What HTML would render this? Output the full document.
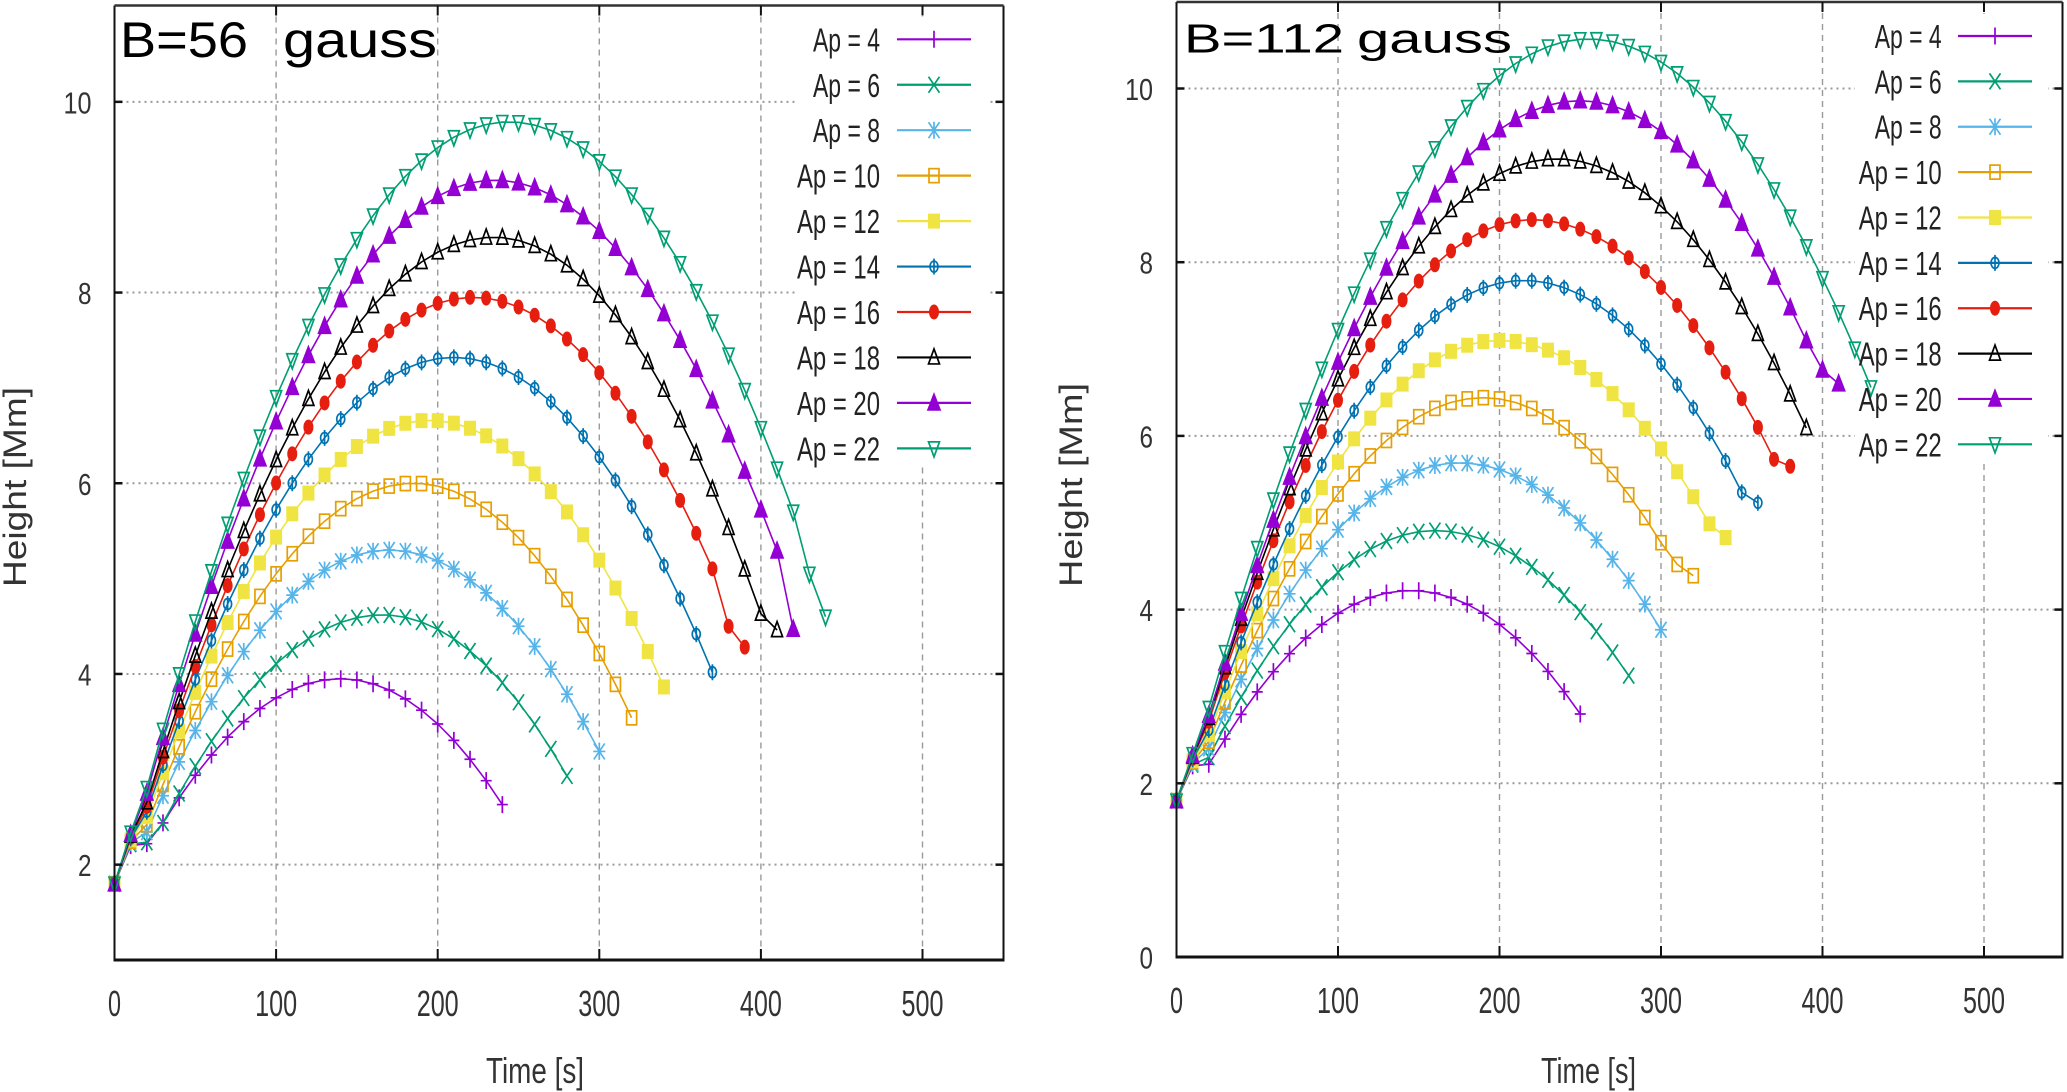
<!DOCTYPE html>
<html>
<head>
<meta charset="utf-8">
<style>
html,body{margin:0;padding:0;background:#fff;}
svg{display:block;}
text{font-family:"Liberation Sans",sans-serif;}
</style>
</head>
<body>
<svg id="s" width="2067" height="1092" viewBox="0 0 2067 1092" xmlns="http://www.w3.org/2000/svg">
<rect width="2067" height="1092" fill="#fff"/>
<g id="grid"></g>
<!-- legend boxes -->
<rect x="795" y="17" width="193" height="450" fill="#fff"/>
<rect x="1855" y="14" width="193" height="450" fill="#fff"/>
<g id="legend"></g>
<g id="curves"></g>
<g id="frame"></g>

<!-- Titles -->
<text x="120" y="57" font-size="50" fill="#000" textLength="128" lengthAdjust="spacingAndGlyphs">B=56</text>
<text x="283" y="57" font-size="50" fill="#000" textLength="154" lengthAdjust="spacingAndGlyphs">gauss</text>
<text x="1184" y="52.5" font-size="41" fill="#000" textLength="160" lengthAdjust="spacingAndGlyphs">B=112</text>
<text x="1357" y="52.5" font-size="41" fill="#000" textLength="155" lengthAdjust="spacingAndGlyphs">gauss</text>

<!-- Left legend text -->
<g font-size="33" fill="#222">
<text x="813" y="51.3" textLength="67" lengthAdjust="spacingAndGlyphs">Ap = 4</text>
<text x="813" y="96.8" textLength="67" lengthAdjust="spacingAndGlyphs">Ap = 6</text>
<text x="813" y="142.2" textLength="67" lengthAdjust="spacingAndGlyphs">Ap = 8</text>
<text x="797" y="187.7" textLength="83" lengthAdjust="spacingAndGlyphs">Ap = 10</text>
<text x="797" y="233.1" textLength="83" lengthAdjust="spacingAndGlyphs">Ap = 12</text>
<text x="797" y="278.6" textLength="83" lengthAdjust="spacingAndGlyphs">Ap = 14</text>
<text x="797" y="324" textLength="83" lengthAdjust="spacingAndGlyphs">Ap = 16</text>
<text x="797" y="369.5" textLength="83" lengthAdjust="spacingAndGlyphs">Ap = 18</text>
<text x="797" y="414.9" textLength="83" lengthAdjust="spacingAndGlyphs">Ap = 20</text>
<text x="797" y="460.4" textLength="83" lengthAdjust="spacingAndGlyphs">Ap = 22</text>
</g>
<!-- Right legend text -->
<g font-size="33" fill="#222">
<text x="1874.7" y="48" textLength="67" lengthAdjust="spacingAndGlyphs">Ap = 4</text>
<text x="1874.7" y="93.4" textLength="67" lengthAdjust="spacingAndGlyphs">Ap = 6</text>
<text x="1874.7" y="138.7" textLength="67" lengthAdjust="spacingAndGlyphs">Ap = 8</text>
<text x="1858.7" y="184.1" textLength="83" lengthAdjust="spacingAndGlyphs">Ap = 10</text>
<text x="1858.7" y="229.5" textLength="83" lengthAdjust="spacingAndGlyphs">Ap = 12</text>
<text x="1858.7" y="274.9" textLength="83" lengthAdjust="spacingAndGlyphs">Ap = 14</text>
<text x="1858.7" y="320.2" textLength="83" lengthAdjust="spacingAndGlyphs">Ap = 16</text>
<text x="1858.7" y="365.6" textLength="83" lengthAdjust="spacingAndGlyphs">Ap = 18</text>
<text x="1858.7" y="411" textLength="83" lengthAdjust="spacingAndGlyphs">Ap = 20</text>
<text x="1858.7" y="456.3" textLength="83" lengthAdjust="spacingAndGlyphs">Ap = 22</text>
</g>

<!-- Left y tick labels -->
<g font-size="31" fill="#333">
<text x="78" y="876.2" textLength="13.5" lengthAdjust="spacingAndGlyphs">2</text>
<text x="78" y="685.5" textLength="13.5" lengthAdjust="spacingAndGlyphs">4</text>
<text x="78" y="494.8" textLength="13.5" lengthAdjust="spacingAndGlyphs">6</text>
<text x="78" y="304" textLength="13.5" lengthAdjust="spacingAndGlyphs">8</text>
<text x="63.5" y="113.4" textLength="28" lengthAdjust="spacingAndGlyphs">10</text>
</g>
<!-- Right y tick labels -->
<g font-size="31" fill="#333">
<text x="1139.5" y="968.5" textLength="13.5" lengthAdjust="spacingAndGlyphs">0</text>
<text x="1139.5" y="794.8" textLength="13.5" lengthAdjust="spacingAndGlyphs">2</text>
<text x="1139.5" y="621.1" textLength="13.5" lengthAdjust="spacingAndGlyphs">4</text>
<text x="1139.5" y="447.4" textLength="13.5" lengthAdjust="spacingAndGlyphs">6</text>
<text x="1139.5" y="273.7" textLength="13.5" lengthAdjust="spacingAndGlyphs">8</text>
<text x="1125" y="100" textLength="28" lengthAdjust="spacingAndGlyphs">10</text>
</g>
<!-- Left x tick labels -->
<g font-size="36" fill="#333">
<text x="108" y="1016" textLength="13" lengthAdjust="spacingAndGlyphs">0</text>
<text x="255.1" y="1016" textLength="42" lengthAdjust="spacingAndGlyphs">100</text>
<text x="416.7" y="1016" textLength="42" lengthAdjust="spacingAndGlyphs">200</text>
<text x="578.3" y="1016" textLength="42" lengthAdjust="spacingAndGlyphs">300</text>
<text x="739.9" y="1016" textLength="42" lengthAdjust="spacingAndGlyphs">400</text>
<text x="901.5" y="1016" textLength="42" lengthAdjust="spacingAndGlyphs">500</text>
</g>
<!-- Right x tick labels -->
<g font-size="36" fill="#333">
<text x="1170" y="1013" textLength="13" lengthAdjust="spacingAndGlyphs">0</text>
<text x="1317" y="1013" textLength="42" lengthAdjust="spacingAndGlyphs">100</text>
<text x="1478.5" y="1013" textLength="42" lengthAdjust="spacingAndGlyphs">200</text>
<text x="1640" y="1013" textLength="42" lengthAdjust="spacingAndGlyphs">300</text>
<text x="1801.5" y="1013" textLength="42" lengthAdjust="spacingAndGlyphs">400</text>
<text x="1963" y="1013" textLength="42" lengthAdjust="spacingAndGlyphs">500</text>
</g>

<!-- Axis titles -->
<text x="486" y="1083" font-size="36" fill="#333" textLength="98" lengthAdjust="spacingAndGlyphs">Time [s]</text>
<text x="1541" y="1083" font-size="36" fill="#333" textLength="95" lengthAdjust="spacingAndGlyphs">Time [s]</text>
<g transform="translate(26,487) rotate(-90)">
<text x="-100" y="0" font-size="32" fill="#333" textLength="200" lengthAdjust="spacingAndGlyphs">Height [Mm]</text>
</g>
<g transform="translate(1082,485) rotate(-90)">
<text x="-102" y="0" font-size="32" fill="#333" textLength="204" lengthAdjust="spacingAndGlyphs">Height [Mm]</text>
</g>
</svg>

<script>
(function(){
const NS="http://www.w3.org/2000/svg";
function mk(p,tag,a){const e=document.createElementNS(NS,tag);for(const k in a)e.setAttribute(k,a[k]);p.appendChild(e);return e;}
const C=["#9400d3","#009e73","#56b4e9","#e69f00","#f0e442","#0072b2","#e51e10","#000000","#9400d3","#009e73"];
function marker(g,i,x,y){
  const c=C[i], sw=1.7;
  const st={stroke:c,'stroke-width':sw,fill:'none'};
  function P(d,fill){const a={d:d,stroke:c,'stroke-width':sw,fill:fill?c:'none','stroke-linejoin':'miter'};mk(g,'path',a);}
  switch(i){
    case 0: P(`M${x-5.5},${y}H${x+5.5}M${x},${y-8.5}V${y+8.5}`);break;
    case 1: P(`M${x-5.5},${y-8}L${x+5.5},${y+8}M${x-5.5},${y+8}L${x+5.5},${y-8}`);break;
    case 2: P(`M${x-5.5},${y-8}L${x+5.5},${y+8}M${x-5.5},${y+8}L${x+5.5},${y-8}M${x-6},${y}H${x+6}M${x},${y-8.5}V${y+8.5}`);break;
    case 3: mk(g,'rect',Object.assign({x:x-5,y:y-7,width:10,height:14},st));break;
    case 4: mk(g,'rect',{x:x-6,y:y-7.5,width:12,height:15,fill:c});break;
    case 5: mk(g,'ellipse',Object.assign({cx:x,cy:y,rx:4,ry:5.5},st));P(`M${x},${y-8}V${y+8}`);break;
    case 6: mk(g,'ellipse',{cx:x,cy:y,rx:5,ry:7.5,fill:c});break;
    case 7: P(`M${x},${y-8.5}L${x+5.5},${y+6.5}H${x-5.5}Z`);break;
    case 8: P(`M${x},${y-8.5}L${x+6},${y+7}H${x-6}Z`,true);break;
    case 9: P(`M${x-5.5},${y-6.5}H${x+5.5}L${x},${y+8.5}Z`);break;
  }
}
// [tp, hp, a_rise (null => through h0=1.5), a_fall, T, overrides]
const plots=[
 {x0:114.5,sx:1.616,y0:960,sy:95.35,hmin:1,top:5.5,right:1003.5,bottom:960,yt:[2,4,6,8,10],
  lx1:897,lx2:971,lxm:934,ly0:39.3,ldy:45.45,
  S:[[140,3.95,null,1.32,240,{}],
     [166,4.62,1.18,1.30,280,{}],
     [170,5.30,null,1.25,300,{}],
     [185,6.00,null,1.35,320,{}],
     [195,6.66,null,1.33,340,{}],
     [210,7.32,null,1.29,370,{}],
     [222,7.95,null,1.30,390,{380:4.5}],
     [235,8.58,null,1.45,410,{410:4.46}],
     [235,9.18,null,1.27,420,{420:4.47}],
     [244,9.79,null,1.32,440,{430:5.05,440:4.6}]]},
 {x0:1176.5,sx:1.615,y0:957,sy:86.85,hmin:0,top:2,right:2062.5,bottom:957,yt:[2,4,6,8,10],
  lx1:1958,lx2:2032,lxm:1995,ly0:36,ldy:45.37,
  S:[[145,4.22,null,1.29,250,{}],
     [160,4.91,null,1.16,280,{}],
     [175,5.69,null,1.23,300,{}],
     [190,6.44,null,1.38,320,{310:4.52,320:4.39}],
     [200,7.10,null,1.25,340,{340:4.83}],
     [215,7.79,null,1.33,360,{350:5.35,360:5.23}],
     [220,8.49,null,1.22,380,{370:5.73,380:5.65}],
     [235,9.19,null,1.29,390,{}],
     [250,9.86,null,1.41,410,{400:6.76,410:6.6}],
     [255,10.57,null,1.31,430,{}]]}
];
const grid=document.getElementById('grid'),leg=document.getElementById('legend'),
      cur=document.getElementById('curves'),fr=document.getElementById('frame');
plots.forEach(p=>{
  const X=t=>p.x0+t*p.sx, Y=h=>p.y0-(h-p.hmin)*p.sy;
  for(let t=100;t<=500;t+=100){
    mk(grid,'line',{x1:X(t),x2:X(t),y1:p.top,y2:p.bottom,stroke:'#9a9a9a','stroke-width':1.4,'stroke-dasharray':'6,5'});
  }
  p.yt.forEach(h=>{
    mk(grid,'line',{x1:p.x0,x2:p.right,y1:Y(h),y2:Y(h),stroke:'#9a9a9a','stroke-width':2,'stroke-dasharray':'2,4'});
  });
  for(let i=0;i<10;i++){
    const y=p.ly0+i*p.ldy;
    mk(leg,'line',{x1:p.lx1,x2:p.lx2,y1:y,y2:y,stroke:C[i],'stroke-width':2.2});
    marker(leg,i,p.lxm,y);
  }
  p.S.forEach((s,i)=>{
    const [tp,hp,arIn,af,T,ov]=s;
    const ar = arIn!==null ? arIn*1e-4 : (hp-1.5)/(tp*tp);
    const model=t=>{const a=(t<tp?ar:af*1e-4); return hp-a*(t-tp)*(t-tp);};
    const h10=Math.max(model(10),2.2+0.015*i);
    const pts=[];
    for(let t=0;t<=T;t+=10){
      let h;
      if(t===0)h=1.8;
      else if(t===10)h=h10;
      else {h=model(t); if(t<tp && h<h10)h=h10+0.02;}
      if(ov[t]!==undefined)h=ov[t];
      pts.push([X(t),Y(h)]);
    }
    mk(cur,'polyline',{points:pts.map(q=>q[0].toFixed(1)+','+q[1].toFixed(1)).join(' '),fill:'none',stroke:C[i],'stroke-width':1.6,'stroke-linejoin':'round'});
    const g=mk(cur,'g',{});
    pts.forEach(q=>marker(g,i,q[0],q[1]));
  });
  mk(fr,'line',{x1:p.x0,x2:p.x0,y1:p.top,y2:p.bottom,stroke:'#111','stroke-width':2});
  mk(fr,'line',{x1:p.right,x2:p.right,y1:p.top,y2:p.bottom,stroke:'#111','stroke-width':2});
  mk(fr,'line',{x1:p.x0,x2:p.right,y1:p.top,y2:p.top,stroke:'#333','stroke-width':2.5});
  mk(fr,'line',{x1:p.x0-1,x2:p.right+1,y1:p.bottom,y2:p.bottom,stroke:'#111','stroke-width':3});
  for(let t=100;t<=500;t+=100){
    mk(fr,'line',{x1:X(t),x2:X(t),y1:p.bottom,y2:p.bottom-11,stroke:'#111','stroke-width':2});
    mk(fr,'line',{x1:X(t),x2:X(t),y1:p.top,y2:p.top+10,stroke:'#111','stroke-width':2});
  }
  p.yt.forEach(h=>{
    mk(fr,'line',{x1:p.x0,x2:p.x0+8,y1:Y(h),y2:Y(h),stroke:'#111','stroke-width':2.5});
    mk(fr,'line',{x1:p.right,x2:p.right-8,y1:Y(h),y2:Y(h),stroke:'#111','stroke-width':2.5});
  });
});
})();
</script>
</body>
</html>
